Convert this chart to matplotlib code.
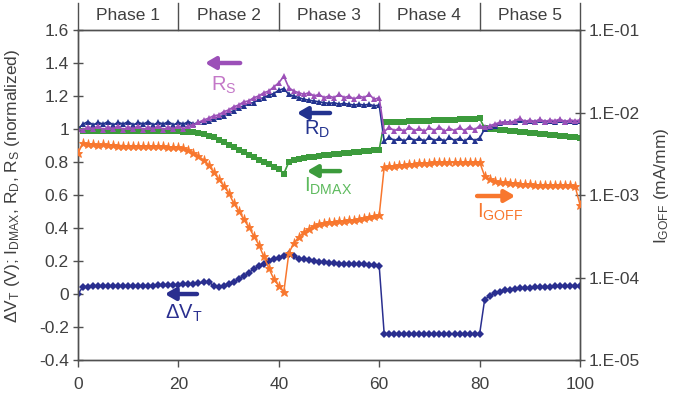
import matplotlib
matplotlib.use("Agg")
import matplotlib.pyplot as plt
import numpy as np

plt.rcParams['font.family'] = ['Liberation Sans', 'DejaVu Sans']
plt.rcParams['mathtext.fontset'] = 'custom'
plt.rcParams['mathtext.rm'] = 'Liberation Sans'
plt.rcParams['mathtext.it'] = 'Liberation Sans'

# ---------------- data ----------------
stress_time = list(range(0, 101))

delta_vt = [0.00,
    0.045, 0.045, 0.047, 0.046, 0.047, 0.048, 0.047, 0.048, 0.048, 0.049,
    0.049, 0.050, 0.050, 0.051, 0.051, 0.052, 0.052, 0.053, 0.054, 0.055,
    0.058, 0.060, 0.062, 0.065, 0.070, 0.075, 0.050, 0.045, 0.050, 0.060,
    0.075, 0.090, 0.110, 0.130, 0.150, 0.170, 0.185, 0.200, 0.210, 0.220,
    0.230, 0.240, 0.230, 0.215, 0.210, 0.205, 0.200, 0.197, 0.193, 0.190,
    0.187, 0.185, 0.184, 0.183, 0.182, 0.181, 0.180, 0.178, 0.176, 0.170,
    -0.245, -0.243, -0.244, -0.243, -0.245, -0.243, -0.244, -0.243, -0.245, -0.243,
    -0.244, -0.243, -0.245, -0.243, -0.244, -0.243, -0.245, -0.243, -0.244, -0.243,
    -0.035, -0.010, 0.005, 0.015, 0.022, 0.027, 0.031, 0.034, 0.037, 0.039,
    0.041, 0.043, 0.044, 0.045, 0.046, 0.047, 0.048, 0.048, 0.049, 0.049]

r_d = [1.00,
    1.03, 1.045, 1.025, 1.04, 1.03, 1.045, 1.025, 1.04, 1.03, 1.045,
    1.025, 1.04, 1.03, 1.045, 1.025, 1.04, 1.03, 1.045, 1.025, 1.04,
    1.03, 1.045, 1.03, 1.04, 1.045, 1.05, 1.06, 1.075, 1.08, 1.10,
    1.11, 1.13, 1.14, 1.155, 1.16, 1.18, 1.19, 1.205, 1.215, 1.235,
    1.245, 1.21, 1.20, 1.19, 1.18, 1.175, 1.17, 1.165, 1.16, 1.155,
    1.16, 1.15, 1.155, 1.15, 1.145, 1.15, 1.145, 1.15, 1.14, 1.145,
    0.925, 0.95, 0.93, 0.945, 0.925, 0.95, 0.93, 0.945, 0.925, 0.95,
    0.93, 0.945, 0.925, 0.95, 0.93, 0.945, 0.925, 0.95, 0.93, 0.945,
    1.00, 1.01, 1.02, 1.035, 1.04, 1.045, 1.04, 1.055, 1.045, 1.05,
    1.045, 1.055, 1.045, 1.05, 1.045, 1.055, 1.045, 1.05, 1.045, 1.05]

r_s = [1.00,
    0.995, 1.015, 1.00, 1.02, 0.995, 1.015, 1.00, 1.02, 0.995, 1.015,
    1.00, 1.02, 0.995, 1.015, 1.00, 1.02, 0.995, 1.015, 1.00, 1.02,
    1.00, 1.02, 1.025, 1.04, 1.055, 1.065, 1.08, 1.085, 1.105, 1.115,
    1.135, 1.145, 1.165, 1.17, 1.19, 1.20, 1.22, 1.23, 1.255, 1.28,
    1.32, 1.25, 1.23, 1.22, 1.21, 1.22, 1.20, 1.21, 1.19, 1.20,
    1.19, 1.21, 1.19, 1.20, 1.18, 1.20, 1.19, 1.21, 1.18, 1.19,
    0.985, 1.01, 0.99, 1.005, 0.985, 1.015, 0.99, 1.005, 0.985, 1.01,
    0.99, 1.015, 0.985, 1.005, 0.99, 1.01, 0.99, 1.015, 0.995, 1.02,
    1.01, 1.02, 1.03, 1.04, 1.045, 1.04, 1.05, 1.065, 1.045, 1.055,
    1.045, 1.06, 1.045, 1.055, 1.05, 1.06, 1.045, 1.055, 1.05, 1.055]

i_dmax = [1.00,
    0.99, 0.99, 0.99, 0.99, 0.99, 0.99, 0.99, 0.99, 0.99, 0.99,
    0.99, 0.99, 0.988, 0.988, 0.988, 0.987, 0.987, 0.986, 0.986, 0.985,
    0.984, 0.982, 0.98, 0.975, 0.97, 0.96, 0.95, 0.935, 0.92, 0.905,
    0.89, 0.875, 0.86, 0.845, 0.83, 0.815, 0.80, 0.785, 0.77, 0.755,
    0.73, 0.80, 0.81, 0.82, 0.825, 0.83, 0.833, 0.836, 0.84, 0.843,
    0.846, 0.849, 0.852, 0.855, 0.858, 0.861, 0.864, 0.867, 0.870, 0.875,
    1.040, 1.042, 1.043, 1.044, 1.045, 1.046, 1.047, 1.048, 1.050, 1.051,
    1.052, 1.053, 1.054, 1.055, 1.056, 1.058, 1.059, 1.060, 1.062, 1.065,
    1.006, 1.002, 0.998, 0.994, 0.991, 0.988, 0.985, 0.982, 0.979, 0.976,
    0.973, 0.970, 0.967, 0.964, 0.961, 0.958, 0.955, 0.952, 0.949, 0.945]

i_goff = [3.23e-3,
    4.27e-3, 4.15e-3, 4.15e-3, 4.04e-3, 4.10e-3, 4.04e-3, 4.04e-3, 3.98e-3, 3.98e-3, 3.93e-3,
    3.98e-3, 3.93e-3, 3.93e-3, 3.88e-3, 3.93e-3, 3.88e-3, 3.88e-3, 3.82e-3, 3.85e-3, 3.82e-3,
    3.71e-3, 3.51e-3, 3.23e-3, 2.97e-3, 2.66e-3, 2.31e-3, 1.90e-3, 1.56e-3, 1.29e-3, 1.06e-3,
    8.0e-4, 6.4e-4, 5.1e-4, 4.1e-4, 3.2e-4, 2.5e-4, 1.8e-4, 1.3e-4, 9.6e-5, 7.9e-5,
    6.7e-5, 1.98e-4, 2.62e-4, 3.10e-4, 3.56e-4, 3.87e-4, 4.21e-4, 4.45e-4, 4.58e-4, 4.71e-4,
    4.65e-4, 4.78e-4, 4.84e-4, 4.98e-4, 4.95e-4, 5.12e-4, 5.26e-4, 5.41e-4, 5.56e-4, 5.72e-4,
    2.18e-3, 2.25e-3, 2.25e-3, 2.31e-3, 2.31e-3, 2.38e-3, 2.38e-3, 2.44e-3, 2.44e-3, 2.44e-3,
    2.51e-3, 2.48e-3, 2.51e-3, 2.51e-3, 2.48e-3, 2.51e-3, 2.51e-3, 2.48e-3, 2.51e-3, 2.51e-3,
    1.70e-3, 1.56e-3, 1.48e-3, 1.44e-3, 1.44e-3, 1.40e-3, 1.40e-3, 1.36e-3, 1.36e-3, 1.36e-3,
    1.32e-3, 1.32e-3, 1.34e-3, 1.32e-3, 1.32e-3, 1.34e-3, 1.32e-3, 1.32e-3, 1.29e-3, 7.6e-4]

phase_labels = ["Phase 1", "Phase 2", "Phase 3", "Phase 4", "Phase 5"]
phase_edges = [0, 20, 40, 60, 80, 100]
left_ticks = [-0.4, -0.2, 0, 0.2, 0.4, 0.6, 0.8, 1, 1.2, 1.4, 1.6]
left_ticklabels = ["-0.4", "-0.2", "0", "0.2", "0.4", "0.6", "0.8", "1", "1.2", "1.4", "1.6"]
right_ticks = [1e-5, 1e-4, 1e-3, 1e-2, 1e-1]
right_ticklabels = ["1.E-05", "1.E-04", "1.E-03", "1.E-02", "1.E-01"]
x_ticks = [0, 20, 40, 60, 80, 100]

# ---------------- style ----------------
c_vt = '#2A2F8F'
c_rd = '#23338F'
c_rs = '#9C50B8'
c_rs_lbl = '#C478C8'
c_id = '#3C9B3C'
c_id_lbl = '#5DBA5D'
c_ig = '#F8772E'
c_ax = '#505050'
c_txt = '#404040'
fs = 12.5

fig = plt.figure(figsize=(6.76, 4.11), dpi=100)
ax = fig.add_axes([0.1154, 0.124, 0.7426, 0.803])
ax2 = ax.twinx()

ax.plot(stress_time, i_dmax, color=c_id, lw=1.2, marker='s', ms=4.3, mew=0, zorder=3)
ax.plot(stress_time, r_d, color=c_rd, lw=1.2, marker='^', ms=5, mew=0, zorder=4)
ax.plot(stress_time, r_s, color=c_rs, lw=1.2, marker='^', ms=5, mew=0, zorder=5)
ax.plot(stress_time, delta_vt, color=c_vt, lw=1.1, marker='D', ms=3.8, mew=0, zorder=4)
ax2.plot(stress_time, i_goff, color=c_ig, lw=1.1, marker='*', ms=6.5, mew=0.6, zorder=3)

ax.set_xlim(0, 100)
ax.set_ylim(-0.4, 1.6)
ax2.set_yscale('log')
ax2.set_ylim(1e-5, 1e-1)

ax.set_xticks(x_ticks)
ax.set_xticklabels([str(t) for t in x_ticks])
ax.set_yticks(left_ticks)
ax.set_yticklabels(left_ticklabels)
ax2.set_yticks(right_ticks)
ax2.set_yticklabels(right_ticklabels)
ax2.minorticks_off()

for a in (ax, ax2):
    for s in a.spines.values():
        s.set_color(c_ax)
        s.set_linewidth(1)
ax.tick_params(axis='y', direction='inout', length=7, width=1, color=c_ax,
               labelsize=fs, labelcolor=c_txt, pad=3)
ax.tick_params(axis='x', direction='out', length=5, width=1, color=c_ax,
               labelsize=fs, labelcolor=c_txt, pad=7)
ax2.tick_params(axis='y', direction='inout', length=7, width=1, color=c_ax,
                labelsize=fs, labelcolor=c_txt, pad=3)

ax.set_ylabel(r'$\Delta$V$_\mathrm{T}$ (V); I$_\mathrm{DMAX}$, R$_\mathrm{D}$, R$_\mathrm{S}$ (normalized)',
              fontsize=fs, color=c_txt)
ax.yaxis.set_label_coords(-0.112, 0.527)
ax2.set_ylabel(r'I$_\mathrm{GOFF}$ (mA/mm)', fontsize=fs, color=c_txt)
ax2.yaxis.set_label_coords(1.143, 0.527)

# phase bar
trans = ax.get_xaxis_transform()
for e in phase_edges:
    ax.plot([e, e], [1.0, 1.082], transform=trans, color=c_ax, lw=1, clip_on=False)
for i, lbl in enumerate(phase_labels):
    xc = (phase_edges[i] + phase_edges[i + 1]) / 2
    ax.text(xc, 1.043, lbl, transform=trans, ha='center', va='center',
            fontsize=fs, color=c_txt)

# annotation arrows and labels
def arrow(x0, x1, y, color):
    ax.annotate('', xy=(x1, y), xytext=(x0, y),
                arrowprops=dict(arrowstyle='-|>,head_length=0.6,head_width=0.35',
                                lw=3.2, color=color, shrinkA=0, shrinkB=0))

afs = 14.5
arrow(32.3, 25.3, 1.40, c_rs)
ax.text(29.1, 1.265, r'R$_\mathrm{S}$', color=c_rs_lbl, fontsize=afs, ha='center', va='center')
arrow(50.2, 43.6, 1.097, c_rd)
ax.text(47.6, 0.995, r'R$_\mathrm{D}$', color=c_rd, fontsize=afs, ha='center', va='center')
arrow(52.2, 45.6, 0.745, c_id)
ax.text(49.8, 0.65, r'I$_\mathrm{DMAX}$', color=c_id_lbl, fontsize=afs, ha='center', va='center')
arrow(79.5, 87.1, 0.594, c_ig)
ax.text(84.0, 0.495, r'I$_\mathrm{GOFF}$', color=c_ig, fontsize=afs, ha='center', va='center')
arrow(23.7, 17.3, 0.0, c_vt)
ax.text(21.0, -0.12, r'$\Delta$V$_\mathrm{T}$', color=c_vt, fontsize=afs, ha='center', va='center')

fig.savefig('out.png', dpi=100)
